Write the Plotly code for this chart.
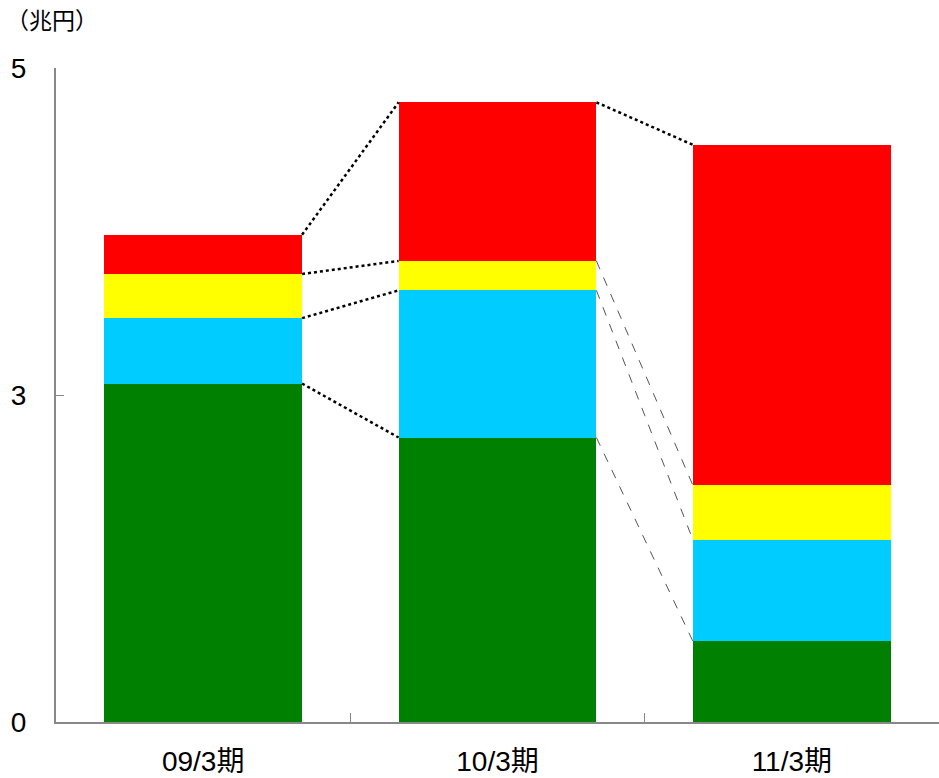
import plotly.graph_objects as go

categories = ["09/3期", "10/3期", "11/3期"]
green = [3.07, 2.61, 0.74]
cyan = [0.40, 1.03, 0.93]
yellow = [0.27, 0.18, 0.50]
red = [0.24, 0.97, 2.36]
tick_values = [0, 3, 5]
unit_label = "（兆円）"

series = [("系列1", green, "#008000"), ("系列2", cyan, "#00CCFF"),
          ("系列3", yellow, "#FFFF00"), ("系列4", red, "#FF0000")]

# broken value axis: 0-3 and 3-5 occupy equal heights
def T(v):
    return v / 3.0 if v <= 3 else 1.0 + (v - 3) / 2.0

BW = 0.672
xs = list(range(len(categories)))
fig = go.Figure()

cum = [0.0] * len(categories)
tops = []
for name, vals, col in series:
    base = [T(c) for c in cum]
    new = [c + v for c, v in zip(cum, vals)]
    fig.add_trace(go.Bar(x=xs, y=[T(n) - b for n, b in zip(new, base)], base=base,
                         marker=dict(color=col, line=dict(width=0)), width=BW,
                         name=name, showlegend=False, hoverinfo="skip"))
    tops.append(new)
    cum = new

# connector lines
for si, tp in enumerate(tops):
    for i in range(len(categories) - 1):
        x0 = xs[i] + BW / 2
        x1 = xs[i + 1] - BW / 2
        thick = (i == 0) or (si == len(tops) - 1)
        line = dict(color="black", width=2.5, dash="dot") if thick else \
            dict(color="#555555", width=1, dash="dash")
        fig.add_trace(go.Scatter(x=[x0, x1], y=[T(tp[i]), T(tp[i + 1])], mode="lines",
                                 line=line, showlegend=False, hoverinfo="skip"))

fig.update_layout(
    width=939, height=778, plot_bgcolor="white", paper_bgcolor="white",
    margin=dict(l=56, r=0, t=68, b=56),
    font=dict(family="Liberation Sans, Arial, Noto Sans CJK JP", size=28, color="black"),
    barmode="overlay", bargap=0,
    annotations=[dict(text=unit_label, x=0, y=1, xref="paper", yref="paper",
                      xshift=-52, yshift=47, xanchor="left", yanchor="middle",
                      showarrow=False, font=dict(size=23,
                      family="Liberation Sans, Noto Sans CJK JP"))],
)
fig.update_xaxes(range=[-0.5, 2.5], tickvals=xs, ticktext=categories, ticks="",
                 showline=True, linecolor="#888888", linewidth=2, showgrid=False,
                 zeroline=False, ticklabelstandoff=13, automargin=False,
                 minor=dict(tickvals=[0.5, 1.5], ticks="inside", ticklen=9,
                            tickcolor="#888888", tickwidth=1, showgrid=False))
fig.update_yaxes(range=[0, 2], tickvals=[T(v) for v in tick_values],
                 ticktext=[str(v) for v in tick_values], ticks="inside", ticklen=8,
                 tickcolor="#888888", showline=True, linecolor="#888888", linewidth=2,
                 showgrid=False, zeroline=False, ticklabelstandoff=22, automargin=False)

fig.write_html("out.html")
